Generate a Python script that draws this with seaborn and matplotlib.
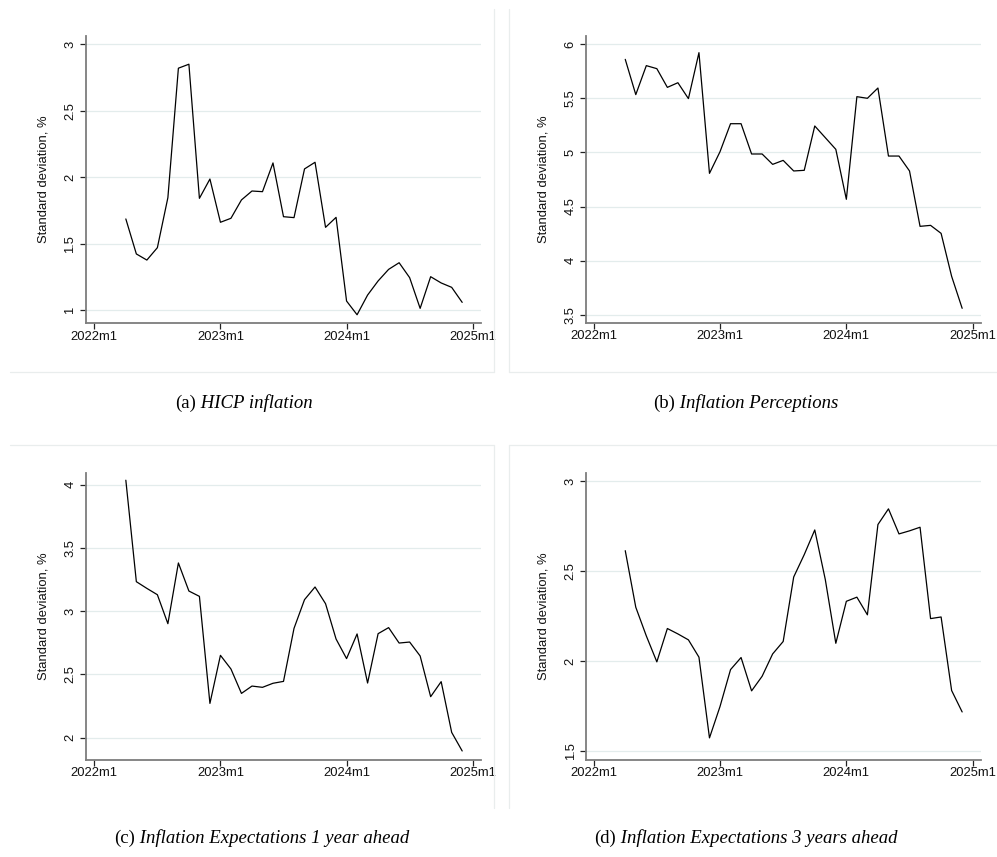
import numpy as np
import pandas as pd
import matplotlib
matplotlib.use("Agg")
import matplotlib.pyplot as plt
from matplotlib.lines import Line2D
import seaborn as sns

# ---------------- data ----------------
months = pd.period_range("2022-04", "2024-12", freq="M")

hicp = [1.687, 1.424, 1.378, 1.471, 1.847, 2.820, 2.850, 1.842, 1.987,
        1.662, 1.692, 1.830, 1.897, 1.892, 2.108, 1.704, 1.697, 2.063,
        2.113, 1.624, 1.699, 1.070, 0.967, 1.115, 1.221, 1.308, 1.358,
        1.246, 1.015, 1.253, 1.206, 1.173, 1.060]

perceptions = [5.861, 5.535, 5.803, 5.775, 5.602, 5.645, 5.498, 5.923, 4.807,
               5.007, 5.266, 5.266, 4.986, 4.986, 4.890, 4.927, 4.829, 4.835,
               5.245, 5.137, 5.029, 4.567, 5.516, 5.501, 5.596, 4.967, 4.967,
               4.829, 4.317, 4.326, 4.252, 3.855, 3.559]

expect_1y = [4.035, 3.233, 3.180, 3.130, 2.901, 3.381, 3.159, 3.117, 2.271,
             2.651, 2.543, 2.350, 2.408, 2.398, 2.430, 2.445, 2.864, 3.091,
             3.191, 3.059, 2.780, 2.625, 2.820, 2.432, 2.822, 2.870, 2.748,
             2.756, 2.646, 2.324, 2.443, 2.042, 1.895]

expect_3y = [2.613, 2.299, 2.140, 1.996, 2.181, 2.151, 2.118, 2.022, 1.574,
             1.748, 1.953, 2.020, 1.835, 1.916, 2.040, 2.109, 2.467, 2.591,
             2.728, 2.453, 2.099, 2.332, 2.355, 2.257, 2.758, 2.845, 2.706,
             2.723, 2.743, 2.236, 2.245, 1.837, 1.718]

xtick_labels = ["2022m1", "2023m1", "2024m1", "2025m1"]
yticks_a = [1, 1.5, 2, 2.5, 3]
yticks_b = [3.5, 4, 4.5, 5, 5.5, 6]
yticks_c = [2, 2.5, 3, 3.5, 4]
yticks_d = [1.5, 2, 2.5, 3]
ylabel = "Standard deviation, %"
caption_tags = ["(a)", "(b)", "(c)", "(d)"]
caption_texts = ["HICP inflation", "Inflation Perceptions",
                 "Inflation Expectations 1 year ahead",
                 "Inflation Expectations 3 years ahead"]

# months since 2022m1
base = pd.Period("2022-01", freq="M")
month_idx = [(m - base).n for m in months]
xtick_pos = [(pd.Period(l.replace("m", "-"), freq="M") - base).n for l in xtick_labels]

df = pd.DataFrame({"t": month_idx, "hicp": hicp, "perc": perceptions,
                   "e1": expect_1y, "e3": expect_3y})

# ---------------- figure ----------------
sns.set_theme(style="white")
plt.rcParams["font.family"] = ["Liberation Sans", "DejaVu Sans"]

W, H = 997, 857
fig = plt.figure(figsize=(W / 100, H / 100), dpi=100)
fig.patch.set_facecolor("white")

def px_rect(l, t, r, b):
    return [l / W, 1 - b / H, (r - l) / W, (b - t) / H]

GRID = "#e3ecec"
SPINE = "#7d7d7d"
FS = 9.4

panels = [
    # key, axes px rect, xlim, ylim, yticks, ylabel anchor x (px)
    ("hicp", (86, 36, 481, 323), (-0.79, 36.79), (0.905, 3.062), yticks_a, 49),
    ("perc", (586.3, 36, 981, 322.7), (-0.70, 36.79), (3.426, 6.077), yticks_b, 549),
    ("e1", (86, 473, 481, 759.7), (-0.79, 36.79), (1.826, 4.092), yticks_c, 49),
    ("e3", (586.3, 473, 981, 759.7), (-0.70, 36.79), (1.453, 3.044), yticks_d, 549),
]

for key, rect, xl, yl, yt, lab_x in panels:
    ax = fig.add_axes(px_rect(*rect))
    ax.set_facecolor("white")
    for yv in yt:
        ax.axhline(yv, color=GRID, lw=0.9, zorder=0)
    sns.lineplot(data=df, x="t", y=key, ax=ax, color="black", lw=0.9)
    ax.set_xlim(*xl)
    ax.set_ylim(*yl)
    ax.set_xticks(xtick_pos)
    ax.set_xticklabels(xtick_labels, fontsize=FS, color="#111111")
    ax.set_yticks(yt)
    ax.set_yticklabels([f"{v:g}" for v in yt], fontsize=FS, rotation=90,
                       va="center", color="#111111")
    ax.tick_params(axis="both", which="major", direction="out", length=4,
                   width=0.9, color="#222222", bottom=True, left=True,
                   top=False, right=False)
    ax.tick_params(axis="x", pad=1.5)
    ax.tick_params(axis="y", pad=3)
    for s in ["top", "right"]:
        ax.spines[s].set_visible(False)
    for s in ["left", "bottom"]:
        ax.spines[s].set_color(SPINE)
        ax.spines[s].set_linewidth(1.3)
    ax.set_xlabel("")
    ax.set_ylabel(ylabel, fontsize=FS, color="#111111")
    ax.yaxis.set_label_coords((lab_x - rect[0]) / (rect[2] - rect[0]), 0.5)
    ax.grid(False)

# ---------------- frames (light borders of the sub-images) ----------------
FRAME = "#e9eded"
def fline(x0, y0, x1, y1):
    fig.add_artist(Line2D([x0 / W, x1 / W], [1 - y0 / H, 1 - y1 / H],
                          color=FRAME, lw=0.9, transform=fig.transFigure))

fline(494, 9, 494, 372); fline(509, 9, 509, 372)
fline(10, 372, 494, 372); fline(509, 372, 997, 372)
fline(10, 445, 494, 445); fline(509, 445, 997, 445)
fline(494, 445, 494, 808); fline(509, 445, 509, 808)

# ---------------- captions ----------------
fig.canvas.draw()
renderer = fig.canvas.get_renderer()
cap_pos = [(244, 403), (746, 403), (262, 838), (746, 838)]
for (cx, cy), tag, txt in zip(cap_pos, caption_tags, caption_texts):
    t1 = fig.text(0, 1 - cy / H, tag, fontsize=13.5, family="Liberation Serif",
                  va="center", ha="left", color="black")
    t2 = fig.text(0, 1 - cy / H, " " + txt, fontsize=13.5,
                  family="Liberation Serif", style="italic",
                  va="center", ha="left", color="black")
    w1 = t1.get_window_extent(renderer).width
    w2 = t2.get_window_extent(renderer).width
    x0 = cx - (w1 + w2) / 2
    t1.set_x(x0 / W)
    t2.set_x((x0 + w1) / W)

fig.savefig("out.png", dpi=100, facecolor="white")
